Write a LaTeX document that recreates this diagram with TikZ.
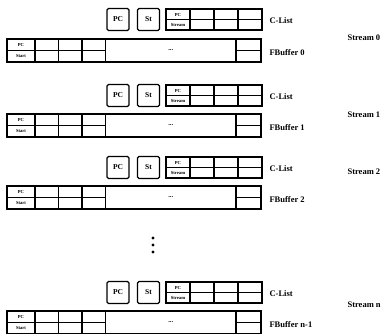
\documentclass[tikz,border=0pt]{standalone}
\usepackage{fontspec}
\setmainfont{Liberation Serif}
\usepackage{tikz}
\usetikzlibrary{positioning}

\begin{document}
\begin{tikzpicture}[
    x=1pt, y=-1pt,
    line width=1.1pt,
    every node/.style={font=\bfseries},
    regbox/.style={
        draw,
        line width=1.3pt,
        rounded corners=1.5pt,
        minimum size=22pt,
        inner sep=0pt,
        font=\bfseries\fontsize{7.5}{7.5}\selectfont
    },
    cell/.style={
        draw,
        minimum width=24pt,
        minimum height=21pt,
        inner sep=0pt,
        path picture={\draw[line width=0.9pt] (path picture bounding box.west) -- (path picture bounding box.east);}
    },
    bigcell/.style={
        draw,
        minimum width=130.5pt,
        minimum height=23pt,
        inner sep=0pt,
        font=\bfseries\fontsize{6.5}{6.5}\selectfont
    },
    tiny/.style={inner sep=0pt, font=\bfseries\fontsize{4.6}{4.6}\selectfont},
    lbl/.style={anchor=west, inner sep=0pt, font=\bfseries\fontsize{8.5}{8.5}\selectfont},
    dot/.style={circle, fill, inner sep=0pt, minimum size=3.2pt}
]

\useasboundingbox (0,0) rectangle (389,333);

% one C-List and one FBuffer per stream
\foreach \yc/\yf/\k/\ys/\sn [count=\i] in {9/39/0/38/0, 85/114/1/115/1, 157/186/2/172/2, 282/311/n-1/305/n}{
    \node[regbox] (pc\i) at (118,\yc+10.5) {PC};
    \node[regbox] (st\i) at (148.5,\yc+10.5) {St};

    \node[cell] (cla\i) at (178,\yc+10.5) {};
    \node[cell] (clb\i) at (202,\yc+10.5) {};
    \node[cell] (clc\i) at (226,\yc+10.5) {};
    \node[cell] (cld\i) at (250,\yc+10.5) {};
    \node[tiny] (clpc\i) at (178,\yc+5.5) {PC};
    \node[tiny] (clst\i) at (178,\yc+15.8) {Stream};

    \node[cell, minimum width=28pt, minimum height=23pt] (fba\i) at (21,\yf+11.5) {};
    \node[cell, minimum width=23.5pt, minimum height=23pt] (fbb\i) at (46.75,\yf+11.5) {};
    \node[cell, minimum width=23.5pt, minimum height=23pt] (fbc\i) at (70.25,\yf+11.5) {};
    \node[cell, minimum width=23.5pt, minimum height=23pt] (fbd\i) at (93.75,\yf+11.5) {};
    \node[bigcell] (fbe\i) at (170.75,\yf+11.5) {...};
    \node[cell, minimum width=25pt, minimum height=23pt] (fbf\i) at (248.5,\yf+11.5) {};
    \node[tiny] (fbpc\i) at (21,\yf+6) {PC};
    \node[tiny] (fbst\i) at (21,\yf+17.3) {Start};

    \node[lbl] (cll\i) at (269,\yc+12) {C-List};
    \node[lbl] (fbl\i) at (269,\yf+14) {FBuffer \k};
    \node[lbl] (sl\i) at (347,\ys) {Stream \sn};
}

\node[dot] (dota) at (153,238) {};
\node[dot] (dotb) at (153,245) {};
\node[dot] (dotc) at (153,252) {};

\end{tikzpicture}
\end{document}
